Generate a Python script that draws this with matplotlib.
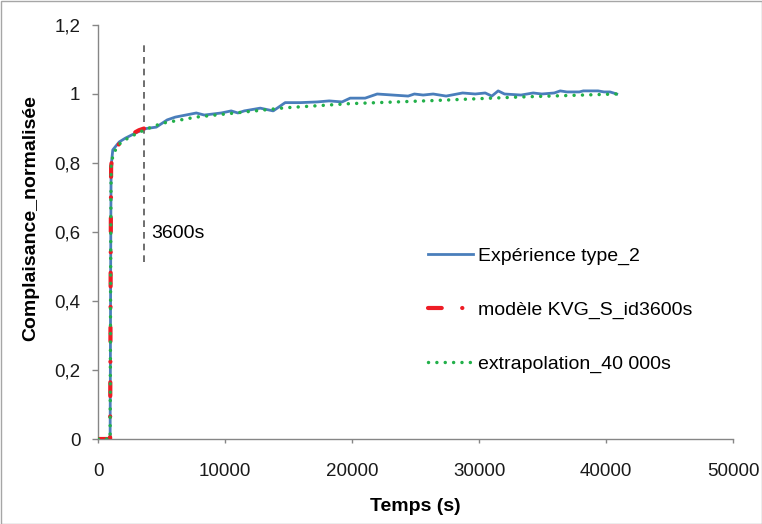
import matplotlib
matplotlib.use("Agg")
import matplotlib.pyplot as plt
from matplotlib.ticker import FuncFormatter, MultipleLocator
from matplotlib.patches import Rectangle

plt.rcParams['font.family'] = ['Liberation Sans', 'DejaVu Sans']

# Experimental curve (time in s, normalised compliance)
t_exp = [0, 500, 930, 950, 970, 990, 1010, 1140, 1650, 2130, 3110, 3780, 4570, 5430, 6060,
         7720, 8350, 9690, 10470, 11000, 11500, 12760, 13780, 14720, 15910, 17240,
         18190, 19200, 19840, 21020, 21970, 24410, 24900, 25590, 26380, 27400, 28700,
         29690, 30480, 31000, 31500, 32000, 33300, 34260, 34940, 35920, 36390, 36910,
         37890, 38210, 39370, 39840, 40310, 40840]
v_exp = [0, 0, 0, 0.2, 0.45, 0.65, 0.79, 0.838, 0.861, 0.872, 0.89, 0.90, 0.904, 0.925, 0.933,
         0.945, 0.939, 0.945, 0.951, 0.945, 0.951, 0.959, 0.951, 0.975, 0.975, 0.977,
         0.98, 0.977, 0.988, 0.988, 1.0, 0.994, 1.0, 0.997, 1.0, 0.994, 1.003,
         1.0, 1.003, 0.994, 1.009, 1.0, 0.997, 1.003, 1.0, 1.003, 1.009, 1.006,
         1.006, 1.009, 1.009, 1.006, 1.006, 1.0]

# Model KVG_S_id3600s (identified up to 3600 s)
t_mod = [0, 500, 930, 950, 970, 990, 1010, 1100, 1300, 1700, 2200, 2700, 3200, 3600]
v_mod = [0, 0, 0, 0.2, 0.45, 0.65, 0.79, 0.818, 0.838, 0.858, 0.872, 0.885, 0.895, 0.90]

# Extrapolation to 40 000 s
t_ext = [0, 500, 930, 950, 970, 990, 1010, 1140, 1500, 2000, 3000, 3700, 5000, 7700,
         10000, 14700, 19800, 26400, 33000, 40800]
v_ext = [0, 0, 0, 0.2, 0.45, 0.65, 0.79, 0.82, 0.85, 0.865, 0.885, 0.897, 0.915, 0.933,
         0.942, 0.960, 0.972, 0.981, 0.991, 1.0]

marker_t = 3600
marker_label = "3600s"

W, H = 762, 524
fig = plt.figure(figsize=(W / 100, H / 100), dpi=100)
ax = fig.add_axes([98.3 / W, 1 - 439 / H, (733 - 98.3) / W, (439 - 25) / H])

ax.plot(t_exp, v_exp, color='#4a7ebb', lw=2.0, label='Expérience type_2', zorder=3)
ax.plot(t_mod, v_mod, color='#ee1c25', lw=3.0, linestyle=(0, (3.3, 4.9, 0.05, 4.9)),
        dash_capstyle='round', label='modèle KVG_S_id3600s', zorder=4)
ax.plot(t_ext, v_ext, color='#22b04a', lw=2.5, linestyle=(0, (0.01, 2.4)),
        dash_capstyle='round', label='extrapolation_40 000s', zorder=5)

ax.plot([marker_t, marker_t], [0.513, 1.142], color='#555555', lw=1.2,
        linestyle=(0, (4, 3)), zorder=2)
ax.text(4200, 0.583, marker_label, fontsize=14, va='baseline', ha='left')

ax.set_xlim(0, 50000)
ax.set_ylim(0, 1.2)
ax.xaxis.set_major_locator(MultipleLocator(10000))
ax.yaxis.set_major_locator(MultipleLocator(0.2))

def fmt(v, pos):
    s = f"{v:.1f}".rstrip('0').rstrip('.')
    if s == '-0':
        s = '0'
    return s.replace('.', ',')

ax.yaxis.set_major_formatter(FuncFormatter(fmt))
ax.xaxis.set_major_formatter(FuncFormatter(lambda v, p: f"{int(v)}"))

for side in ['top', 'right']:
    ax.spines[side].set_visible(False)
for side in ['left', 'bottom']:
    ax.spines[side].set_color('#868686')
    ax.spines[side].set_linewidth(1.0)
ax.tick_params(axis='both', colors='#868686', labelcolor='#1a1a1a', labelsize=13.5,
               width=1, direction='out')
ax.tick_params(axis='x', length=3, pad=14)
ax.tick_params(axis='y', length=4.3, pad=8.6)

fig.text(415 / W, 1 - 511 / H, 'Temps (s)', fontsize=14, fontweight='bold',
         ha='center', va='baseline')
fig.text(35 / W, 1 - 218 / H, 'Complaisance_normalisée', fontsize=14, fontweight='bold',
         ha='center', va='baseline', rotation=90, rotation_mode='anchor')

leg = ax.legend(loc='center left', bbox_to_anchor=((428 - 98.3) / 635, (439 - 310) / 414),
                frameon=False, fontsize=14, handlelength=2.3, handletextpad=0.3,
                labelspacing=1.85, borderpad=0, borderaxespad=0)

fig.patches.append(Rectangle((0.5 / W, 0.5 / H), 1 - 1 / W, 1 - 1 / H, transform=fig.transFigure,
                             fill=False, edgecolor='#a6a6a6', lw=1.0))

fig.savefig('out.png', dpi=100)
